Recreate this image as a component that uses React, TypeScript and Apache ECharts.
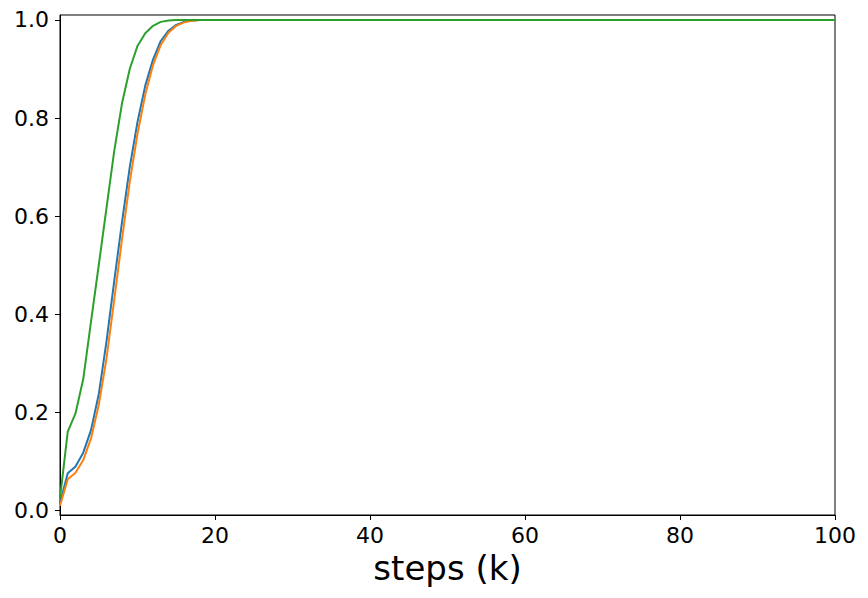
import React, { useEffect, useRef } from "react";
import * as echarts from "echarts";

const steps = [0, 1, 2, 3, 4, 5, 6, 7, 8, 9, 10, 11, 12, 13, 14, 15, 16, 17, 18, 19, 20, 100];
const blueValues = [0.015, 0.076, 0.09, 0.118, 0.164, 0.237, 0.345, 0.468, 0.588, 0.7, 0.792, 0.866, 0.919, 0.957, 0.978, 0.99, 0.996, 0.999, 1, 1, 1, 1];
const orangeValues = [0.01, 0.064, 0.077, 0.103, 0.147, 0.215, 0.31, 0.43, 0.553, 0.67, 0.768, 0.848, 0.908, 0.949, 0.974, 0.988, 0.995, 0.998, 1, 1, 1, 1];
const greenValues = [0.025, 0.161, 0.198, 0.268, 0.385, 0.5, 0.617, 0.733, 0.83, 0.9, 0.947, 0.973, 0.988, 0.996, 0.999, 1, 1, 1, 1, 1, 1, 1];
const yTicks = [0, 0.2, 0.4, 0.6, 0.8, 1.0];
const xAxisName = "steps (k)";

const FONT = "DejaVu Sans";

function pairs(vals: number[]) {
  return steps.map((s, i) => [s, vals[i]]);
}

export default function App() {
  const ref = useRef<HTMLDivElement>(null);
  useEffect(() => {
    if (!ref.current) return;
    const chart = echarts.init(ref.current, null, { renderer: "svg" });
    const mk = (name: string, color: string, vals: number[]) => ({
      name,
      type: "line",
      data: pairs(vals),
      showSymbol: false,
      symbol: "none",
      lineStyle: { color, width: 2 },
      itemStyle: { color },
      z: 2,
    });
    chart.setOption({
      animation: false,
      backgroundColor: "#ffffff",
      grid: {
        left: 60,
        right: 33,
        top: 15,
        bottom: 83,
        show: true,
        borderColor: "#000",
        borderWidth: 1,
        backgroundColor: "transparent",
      },
      xAxis: {
        type: "value",
        min: 0,
        max: 100,
        interval: 20,
        name: xAxisName,
        nameLocation: "middle",
        nameGap: 36,
        nameTextStyle: { fontFamily: FONT, fontSize: 34, color: "#000" },
        axisLine: { show: true, onZero: false, lineStyle: { color: "#000", width: 1 } },
        axisTick: { show: true, inside: false, length: 5, lineStyle: { color: "#000", width: 1 } },
        axisLabel: { fontFamily: FONT, fontSize: 22, color: "#000", margin: 9 },
        splitLine: { show: false },
      },
      yAxis: {
        type: "value",
        min: -0.009,
        max: 1.01,
        axisLine: { show: true, lineStyle: { color: "#000", width: 1 } },
        axisTick: {
          show: true,
          inside: false,
          length: 5,
          customValues: yTicks,
          lineStyle: { color: "#000", width: 1 },
        },
        axisLabel: {
          fontFamily: FONT,
          fontSize: 22,
          color: "#000",
          margin: 11,
          customValues: yTicks,
          formatter: (v: number) => v.toFixed(1),
        },
        splitLine: { show: false },
      },
      series: [
        mk("blue", "#1f77b4", blueValues),
        mk("orange", "#ff7f0e", orangeValues),
        mk("green", "#2ca02c", greenValues),
      ],
    });
    return () => chart.dispose();
  }, []);
  return (
    <div
      ref={ref}
      style={{ position: "fixed", left: 0, top: 0, width: 868, height: 598, background: "#fff" }}
    />
  );
}
